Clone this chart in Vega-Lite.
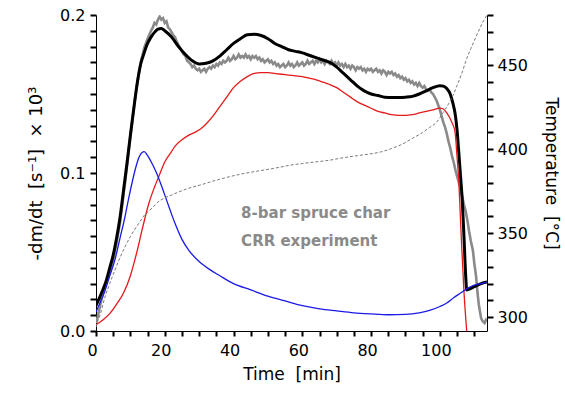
{
  "$schema": "https://vega.github.io/schema/vega-lite/v6.json",
  "width": 391,
  "height": 316,
  "padding": {"left": 96, "top": 15, "right": 78, "bottom": 70},
  "autosize": {"type": "none"},
  "config": {"view": {"stroke": null}, "font": "DejaVu Sans"},
  "datasets": {
    "exp": [
      {"t": 0, "v": 0.005}, {"t": 0.5, "v": 0.009}, {"t": 1, "v": 0.014}, {"t": 1.5, "v": 0.019}, {"t": 2, "v": 0.024},
      {"t": 3, "v": 0.03}, {"t": 4, "v": 0.037}, {"t": 5, "v": 0.045}, {"t": 6, "v": 0.056}, {"t": 7, "v": 0.069},
      {"t": 8, "v": 0.086}, {"t": 9, "v": 0.104}, {"t": 10, "v": 0.123}, {"t": 11, "v": 0.141}, {"t": 12, "v": 0.157},
      {"t": 13, "v": 0.17}, {"t": 14, "v": 0.179}, {"t": 15, "v": 0.185}, {"t": 16, "v": 0.19}, {"t": 16.5, "v": 0.192},
      {"t": 17, "v": 0.195}, {"t": 17.5, "v": 0.194}, {"t": 18, "v": 0.197}, {"t": 18.5, "v": 0.199}, {"t": 19, "v": 0.197},
      {"t": 19.5, "v": 0.198}, {"t": 20, "v": 0.195}, {"t": 20.5, "v": 0.196}, {"t": 21, "v": 0.192}, {"t": 21.5, "v": 0.191},
      {"t": 22, "v": 0.189}, {"t": 22.5, "v": 0.187}, {"t": 23, "v": 0.186}, {"t": 23.5, "v": 0.183}, {"t": 24, "v": 0.181},
      {"t": 24.5, "v": 0.179}, {"t": 25, "v": 0.177}, {"t": 25.5, "v": 0.175}, {"t": 26, "v": 0.174}, {"t": 26.5, "v": 0.171},
      {"t": 27, "v": 0.17}, {"t": 27.5, "v": 0.169}, {"t": 28, "v": 0.167}, {"t": 28.5, "v": 0.168}, {"t": 29, "v": 0.166},
      {"t": 29.5, "v": 0.165}, {"t": 30, "v": 0.166}, {"t": 30.5, "v": 0.164}, {"t": 31, "v": 0.165}, {"t": 31.5, "v": 0.166},
      {"t": 32, "v": 0.164}, {"t": 32.5, "v": 0.166}, {"t": 33, "v": 0.167}, {"t": 33.5, "v": 0.166}, {"t": 34, "v": 0.168},
      {"t": 34.5, "v": 0.167}, {"t": 35, "v": 0.169}, {"t": 35.5, "v": 0.168}, {"t": 36, "v": 0.17}, {"t": 36.5, "v": 0.169},
      {"t": 37, "v": 0.171}, {"t": 37.5, "v": 0.17}, {"t": 38, "v": 0.171}, {"t": 38.5, "v": 0.173}, {"t": 39, "v": 0.171},
      {"t": 39.5, "v": 0.172}, {"t": 40, "v": 0.174}, {"t": 40.5, "v": 0.172}, {"t": 41, "v": 0.173}, {"t": 41.5, "v": 0.175},
      {"t": 42, "v": 0.173}, {"t": 42.5, "v": 0.174}, {"t": 43, "v": 0.173}, {"t": 43.5, "v": 0.175}, {"t": 44, "v": 0.173},
      {"t": 44.5, "v": 0.174}, {"t": 45, "v": 0.172}, {"t": 45.5, "v": 0.174}, {"t": 46, "v": 0.173}, {"t": 46.5, "v": 0.174},
      {"t": 47, "v": 0.172}, {"t": 47.5, "v": 0.173}, {"t": 48, "v": 0.171}, {"t": 48.5, "v": 0.172}, {"t": 49, "v": 0.17},
      {"t": 49.5, "v": 0.171}, {"t": 50, "v": 0.172}, {"t": 50.5, "v": 0.17}, {"t": 51, "v": 0.171}, {"t": 51.5, "v": 0.169},
      {"t": 52, "v": 0.17}, {"t": 52.5, "v": 0.168}, {"t": 53, "v": 0.169}, {"t": 53.5, "v": 0.167}, {"t": 54, "v": 0.168},
      {"t": 54.5, "v": 0.169}, {"t": 55, "v": 0.167}, {"t": 55.5, "v": 0.168}, {"t": 56, "v": 0.17}, {"t": 56.5, "v": 0.168},
      {"t": 57, "v": 0.169}, {"t": 57.5, "v": 0.167}, {"t": 58, "v": 0.168}, {"t": 58.5, "v": 0.17}, {"t": 59, "v": 0.168},
      {"t": 59.5, "v": 0.169}, {"t": 60, "v": 0.17}, {"t": 60.5, "v": 0.168}, {"t": 61, "v": 0.169}, {"t": 61.5, "v": 0.171},
      {"t": 62, "v": 0.169}, {"t": 62.5, "v": 0.17}, {"t": 63, "v": 0.171}, {"t": 63.5, "v": 0.169}, {"t": 64, "v": 0.171},
      {"t": 64.5, "v": 0.17}, {"t": 65, "v": 0.172}, {"t": 65.5, "v": 0.17}, {"t": 66, "v": 0.171}, {"t": 66.5, "v": 0.169},
      {"t": 67, "v": 0.171}, {"t": 67.5, "v": 0.17}, {"t": 68, "v": 0.169}, {"t": 68.5, "v": 0.171}, {"t": 69, "v": 0.169},
      {"t": 69.5, "v": 0.17}, {"t": 70, "v": 0.168}, {"t": 70.5, "v": 0.17}, {"t": 71, "v": 0.168}, {"t": 71.5, "v": 0.169},
      {"t": 72, "v": 0.167}, {"t": 72.5, "v": 0.169}, {"t": 73, "v": 0.167}, {"t": 73.5, "v": 0.168}, {"t": 74, "v": 0.166},
      {"t": 74.5, "v": 0.168}, {"t": 75, "v": 0.167}, {"t": 75.5, "v": 0.165}, {"t": 76, "v": 0.167}, {"t": 76.5, "v": 0.166},
      {"t": 77, "v": 0.167}, {"t": 77.5, "v": 0.165}, {"t": 78, "v": 0.166}, {"t": 78.5, "v": 0.164}, {"t": 79, "v": 0.166},
      {"t": 79.5, "v": 0.165}, {"t": 80, "v": 0.166}, {"t": 80.5, "v": 0.164}, {"t": 81, "v": 0.165}, {"t": 81.5, "v": 0.166},
      {"t": 82, "v": 0.164}, {"t": 82.5, "v": 0.165}, {"t": 83, "v": 0.163}, {"t": 83.5, "v": 0.165}, {"t": 84, "v": 0.164},
      {"t": 84.5, "v": 0.162}, {"t": 85, "v": 0.164}, {"t": 85.5, "v": 0.163}, {"t": 86, "v": 0.164}, {"t": 86.5, "v": 0.162},
      {"t": 87, "v": 0.163}, {"t": 87.5, "v": 0.161}, {"t": 88, "v": 0.162}, {"t": 88.5, "v": 0.16}, {"t": 89, "v": 0.161},
      {"t": 89.5, "v": 0.159}, {"t": 90, "v": 0.16}, {"t": 90.5, "v": 0.158}, {"t": 91, "v": 0.159}, {"t": 91.5, "v": 0.157},
      {"t": 92, "v": 0.158}, {"t": 92.5, "v": 0.156}, {"t": 93, "v": 0.157}, {"t": 93.5, "v": 0.155}, {"t": 94, "v": 0.157},
      {"t": 94.5, "v": 0.155}, {"t": 95, "v": 0.154}, {"t": 95.5, "v": 0.155}, {"t": 96, "v": 0.153}, {"t": 96.5, "v": 0.152},
      {"t": 97, "v": 0.153}, {"t": 97.5, "v": 0.151}, {"t": 98, "v": 0.15}, {"t": 98.5, "v": 0.148}, {"t": 99, "v": 0.146},
      {"t": 99.5, "v": 0.143}, {"t": 100, "v": 0.14}, {"t": 100.5, "v": 0.136}, {"t": 101, "v": 0.132}, {"t": 101.5, "v": 0.129},
      {"t": 102, "v": 0.125}, {"t": 102.5, "v": 0.12}, {"t": 103, "v": 0.116}, {"t": 103.5, "v": 0.111}, {"t": 104, "v": 0.107},
      {"t": 104.5, "v": 0.102}, {"t": 105, "v": 0.098}, {"t": 105.5, "v": 0.094}, {"t": 106, "v": 0.09}, {"t": 106.5, "v": 0.085},
      {"t": 107, "v": 0.08}, {"t": 107.5, "v": 0.076}, {"t": 108, "v": 0.07}, {"t": 108.5, "v": 0.063}, {"t": 109, "v": 0.057},
      {"t": 109.6, "v": 0.051}, {"t": 110, "v": 0.043}, {"t": 110.5, "v": 0.035}, {"t": 111, "v": 0.023}, {"t": 111.3, "v": 0.017},
      {"t": 111.6, "v": 0.013}, {"t": 112, "v": 0.008}, {"t": 112.5, "v": 0.006}, {"t": 113, "v": 0.005}, {"t": 113.4, "v": 0.007},
      {"t": 113.7, "v": 0.006}
    ],
    "total": [
      {"t": 0, "v": 0.016}, {"t": 1, "v": 0.021}, {"t": 2, "v": 0.026}, {"t": 3, "v": 0.032}, {"t": 4, "v": 0.04},
      {"t": 5, "v": 0.048}, {"t": 6, "v": 0.059}, {"t": 7, "v": 0.072}, {"t": 8, "v": 0.089}, {"t": 9, "v": 0.106},
      {"t": 10, "v": 0.124}, {"t": 11, "v": 0.141}, {"t": 12, "v": 0.157}, {"t": 13, "v": 0.169}, {"t": 14, "v": 0.176},
      {"t": 15, "v": 0.182}, {"t": 16, "v": 0.186}, {"t": 17, "v": 0.189}, {"t": 18, "v": 0.191}, {"t": 19, "v": 0.1915},
      {"t": 20, "v": 0.19}, {"t": 22, "v": 0.186}, {"t": 24, "v": 0.18}, {"t": 26, "v": 0.175}, {"t": 28, "v": 0.171},
      {"t": 30, "v": 0.169}, {"t": 32, "v": 0.1695}, {"t": 34, "v": 0.171}, {"t": 36, "v": 0.174}, {"t": 38, "v": 0.178},
      {"t": 40, "v": 0.182}, {"t": 42, "v": 0.185}, {"t": 44, "v": 0.1875}, {"t": 46, "v": 0.1878}, {"t": 48, "v": 0.187},
      {"t": 50, "v": 0.185}, {"t": 52, "v": 0.182}, {"t": 54, "v": 0.18}, {"t": 56, "v": 0.178}, {"t": 58, "v": 0.177},
      {"t": 60, "v": 0.176}, {"t": 62, "v": 0.1745}, {"t": 64, "v": 0.173}, {"t": 66, "v": 0.1715}, {"t": 68, "v": 0.17},
      {"t": 70, "v": 0.167}, {"t": 72, "v": 0.163}, {"t": 74, "v": 0.159}, {"t": 76, "v": 0.155}, {"t": 78, "v": 0.152},
      {"t": 80, "v": 0.15}, {"t": 82, "v": 0.149}, {"t": 84, "v": 0.148}, {"t": 86, "v": 0.1478}, {"t": 88, "v": 0.1478},
      {"t": 90, "v": 0.148}, {"t": 92, "v": 0.1485}, {"t": 94, "v": 0.15}, {"t": 96, "v": 0.152}, {"t": 98, "v": 0.154},
      {"t": 100, "v": 0.1553}, {"t": 101, "v": 0.155}, {"t": 102, "v": 0.1535}, {"t": 103, "v": 0.15}, {"t": 103.8, "v": 0.144},
      {"t": 104.4, "v": 0.138}, {"t": 105, "v": 0.127}, {"t": 105.5, "v": 0.113}, {"t": 106, "v": 0.098}, {"t": 106.5, "v": 0.083},
      {"t": 107, "v": 0.06}, {"t": 107.5, "v": 0.035}, {"t": 107.8, "v": 0.026}, {"t": 108.5, "v": 0.0265}, {"t": 110, "v": 0.028},
      {"t": 112, "v": 0.03}, {"t": 113.7, "v": 0.031}
    ],
    "red": [
      {"t": 0, "v": 0.004}, {"t": 2, "v": 0.007}, {"t": 4, "v": 0.011}, {"t": 6, "v": 0.017}, {"t": 8, "v": 0.024},
      {"t": 10, "v": 0.035}, {"t": 11.3, "v": 0.045}, {"t": 12, "v": 0.051}, {"t": 13.4, "v": 0.064}, {"t": 15.4, "v": 0.081},
      {"t": 17, "v": 0.091}, {"t": 18.3, "v": 0.098}, {"t": 20, "v": 0.107}, {"t": 21.8, "v": 0.113}, {"t": 23, "v": 0.117},
      {"t": 25, "v": 0.121}, {"t": 27, "v": 0.124}, {"t": 29, "v": 0.126}, {"t": 30.5, "v": 0.128}, {"t": 32, "v": 0.131},
      {"t": 34, "v": 0.136}, {"t": 36, "v": 0.142}, {"t": 38, "v": 0.148}, {"t": 40, "v": 0.154}, {"t": 42, "v": 0.158},
      {"t": 44, "v": 0.161}, {"t": 46, "v": 0.163}, {"t": 48, "v": 0.1635}, {"t": 50, "v": 0.1635}, {"t": 52, "v": 0.163},
      {"t": 54, "v": 0.1625}, {"t": 56, "v": 0.162}, {"t": 58, "v": 0.1615}, {"t": 60, "v": 0.161}, {"t": 62, "v": 0.16},
      {"t": 64, "v": 0.159}, {"t": 66, "v": 0.1575}, {"t": 68, "v": 0.156}, {"t": 70, "v": 0.154}, {"t": 72, "v": 0.151},
      {"t": 74, "v": 0.148}, {"t": 76, "v": 0.145}, {"t": 78, "v": 0.143}, {"t": 80, "v": 0.141}, {"t": 82, "v": 0.139},
      {"t": 84, "v": 0.138}, {"t": 86, "v": 0.137}, {"t": 88, "v": 0.1365}, {"t": 90, "v": 0.1365}, {"t": 92, "v": 0.137},
      {"t": 94, "v": 0.138}, {"t": 96, "v": 0.139}, {"t": 98, "v": 0.14}, {"t": 100, "v": 0.141}, {"t": 101, "v": 0.1405},
      {"t": 102, "v": 0.138}, {"t": 103.5, "v": 0.132}, {"t": 104.4, "v": 0.126}, {"t": 105, "v": 0.11}, {"t": 105.5, "v": 0.095},
      {"t": 106, "v": 0.07}, {"t": 106.4, "v": 0.051}, {"t": 107, "v": 0.025}, {"t": 107.8, "v": 0.0}
    ],
    "blue": [
      {"t": 0, "v": 0.012}, {"t": 1, "v": 0.017}, {"t": 2, "v": 0.022}, {"t": 2.7, "v": 0.026}, {"t": 4, "v": 0.035},
      {"t": 5.5, "v": 0.045}, {"t": 7, "v": 0.059}, {"t": 8.4, "v": 0.072}, {"t": 9.5, "v": 0.084}, {"t": 10.5, "v": 0.094},
      {"t": 11.5, "v": 0.103}, {"t": 12.5, "v": 0.11}, {"t": 13.4, "v": 0.113}, {"t": 14, "v": 0.1135}, {"t": 15, "v": 0.111},
      {"t": 16.3, "v": 0.106}, {"t": 17.6, "v": 0.1}, {"t": 19.2, "v": 0.091}, {"t": 20.5, "v": 0.083}, {"t": 21.8, "v": 0.075},
      {"t": 23, "v": 0.068}, {"t": 25, "v": 0.058}, {"t": 27, "v": 0.051}, {"t": 30, "v": 0.044}, {"t": 33, "v": 0.039},
      {"t": 36, "v": 0.035}, {"t": 40, "v": 0.03}, {"t": 45, "v": 0.026}, {"t": 50, "v": 0.022}, {"t": 55, "v": 0.019},
      {"t": 60, "v": 0.016}, {"t": 65, "v": 0.014}, {"t": 70, "v": 0.0127}, {"t": 75, "v": 0.0115}, {"t": 80, "v": 0.0108},
      {"t": 85, "v": 0.0103}, {"t": 90, "v": 0.0105}, {"t": 94, "v": 0.0115}, {"t": 97, "v": 0.013}, {"t": 100, "v": 0.0155},
      {"t": 102, "v": 0.0177}, {"t": 104, "v": 0.021}, {"t": 106, "v": 0.024}, {"t": 108, "v": 0.027}, {"t": 110, "v": 0.029},
      {"t": 112, "v": 0.03}, {"t": 113.7, "v": 0.031}
    ],
    "temp": [
      {"t": 0, "T": 294}, {"t": 0.3, "T": 296.4}, {"t": 1, "T": 300}, {"t": 2.6, "T": 311.9}, {"t": 4, "T": 320},
      {"t": 5.5, "T": 328}, {"t": 7, "T": 335.5}, {"t": 8.4, "T": 341.7}, {"t": 10, "T": 348}, {"t": 12.5, "T": 356},
      {"t": 14, "T": 360.5}, {"t": 16.3, "T": 364.9}, {"t": 18, "T": 368.5}, {"t": 20, "T": 371}, {"t": 22, "T": 372.8},
      {"t": 24, "T": 374.5}, {"t": 27, "T": 376.8}, {"t": 30, "T": 378.5}, {"t": 34, "T": 381}, {"t": 37, "T": 382.7},
      {"t": 41, "T": 384.7}, {"t": 45, "T": 386.3}, {"t": 50, "T": 388}, {"t": 53.5, "T": 389.3}, {"t": 56.4, "T": 390.5},
      {"t": 60, "T": 391.5}, {"t": 64, "T": 392.5}, {"t": 68, "T": 393.5}, {"t": 72, "T": 395}, {"t": 76, "T": 396.2},
      {"t": 80, "T": 397.3}, {"t": 83, "T": 398.5}, {"t": 86, "T": 400.5}, {"t": 89, "T": 403}, {"t": 92, "T": 406.5},
      {"t": 95, "T": 410}, {"t": 97, "T": 413}, {"t": 99, "T": 416}, {"t": 101, "T": 422}, {"t": 102.5, "T": 427},
      {"t": 103.8, "T": 432}, {"t": 105, "T": 438}, {"t": 106.5, "T": 446}, {"t": 107.8, "T": 454}, {"t": 109, "T": 460},
      {"t": 110.5, "T": 467}, {"t": 111.6, "T": 472}, {"t": 112.7, "T": 476.5}, {"t": 113.7, "T": 480}
    ],
    "notes": [
      {"t": 42.2, "v": 0.0715, "label": "8-bar spruce char"},
      {"t": 42.2, "v": 0.0535, "label": "CRR experiment"}
    ]
  },
  "encoding": {
    "x": {
      "field": "t",
      "type": "quantitative",
      "title": "Time\u00a0\u00a0[min]",
      "scale": {"domain": [0, 113.7], "nice": false, "zero": false},
      "axis": {
        "values": [0, 5, 10, 15, 20, 25, 30, 35, 40, 45, 50, 55, 60, 65, 70, 75, 80, 85, 90, 95, 100, 105, 110],
        "labelExpr": "datum.value % 20 === 0 ? datum.label : ''",
        "grid": false,
        "domainColor": "#000000",
        "tickColor": "#000000",
        "tickWidth": 2,
        "tickSize": 5,
        "labelFontSize": 16,
        "titleFontSize": 17,
        "titleFontWeight": "normal",
        "labelPadding": 6,
        "labelOffset": -4,
        "titlePadding": 8,
        "labelFlush": false,
        "labelOverlap": false
      }
    }
  },
  "layer": [
    {
      "data": {"name": "exp"},
      "mark": {"type": "line", "color": "#8a8a8a", "strokeWidth": 2.6, "clip": true},
      "encoding": {
        "y": {
          "field": "v",
          "type": "quantitative",
          "title": "-dm/dt\u00a0\u00a0[s⁻¹]\u00a0\u00a0×\u00a010³",
          "scale": {"domain": [0, 0.2], "nice": false},
          "axis": {
            "orient": "left",
            "values": [0, 0.01, 0.02, 0.03, 0.04, 0.05, 0.06, 0.07, 0.08, 0.09, 0.1, 0.11, 0.12, 0.13, 0.14, 0.15, 0.16, 0.17, 0.18, 0.19, 0.2],
            "format": ".1f",
            "labelExpr": "round(datum.value * 100) % 10 === 0 ? datum.label : ''",
            "grid": false,
            "domainColor": "#000000",
            "tickColor": "#000000",
            "tickWidth": 2,
            "tickSize": 6,
            "labelFontSize": 16,
            "titleFontSize": 18,
            "titleFontWeight": "normal",
            "labelPadding": 5,
            "titlePadding": 14,
            "labelFlush": false,
            "labelOverlap": false
          }
        }
      }
    },
    {
      "data": {"name": "total"},
      "mark": {"type": "line", "color": "#000000", "strokeWidth": 3, "clip": true, "interpolate": "monotone"},
      "encoding": {"y": {"field": "v", "type": "quantitative", "scale": {"domain": [0, 0.2], "nice": false}, "axis": null}}
    },
    {
      "data": {"name": "red"},
      "mark": {"type": "line", "color": "#e41a1a", "strokeWidth": 1.3, "clip": true, "interpolate": "monotone"},
      "encoding": {"y": {"field": "v", "type": "quantitative", "scale": {"domain": [0, 0.2], "nice": false}, "axis": null}}
    },
    {
      "data": {"name": "blue"},
      "mark": {"type": "line", "color": "#1a1ae6", "strokeWidth": 1.3, "clip": true, "interpolate": "monotone"},
      "encoding": {"y": {"field": "v", "type": "quantitative", "scale": {"domain": [0, 0.2], "nice": false}, "axis": null}}
    },
    {
      "data": {"name": "notes"},
      "mark": {"type": "text", "align": "left", "baseline": "alphabetic", "font": "DejaVu Sans", "fontSize": 15, "fontWeight": "bold", "color": "#8a8a8a"},
      "encoding": {
        "y": {"field": "v", "type": "quantitative", "scale": {"domain": [0, 0.2], "nice": false}, "axis": null},
        "text": {"field": "label", "type": "nominal"}
      }
    },
    {
      "data": {"name": "temp"},
      "mark": {"type": "line", "color": "#7a7a7a", "strokeWidth": 1, "strokeDash": [3, 2], "clip": true, "interpolate": "monotone"},
      "encoding": {
        "y": {
          "field": "T",
          "type": "quantitative",
          "title": "Temperature\u00a0\u00a0[°C]",
          "scale": {"domain": [291.7, 480], "nice": false, "zero": false},
          "axis": {
            "orient": "right",
            "values": [300, 310, 320, 330, 340, 350, 360, 370, 380, 390, 400, 410, 420, 430, 440, 450, 460, 470, 480],
            "labelExpr": "datum.value % 50 === 0 ? datum.label : ''",
            "grid": false,
            "domainColor": "#000000",
            "tickColor": "#000000",
            "tickWidth": 2,
            "tickSize": 6,
            "labelFontSize": 16,
            "titleFontSize": 17,
            "titleFontWeight": "normal",
            "labelPadding": 4,
            "titlePadding": 14,
            "labelFlush": false,
            "labelOverlap": false
          }
        }
      }
    }
  ],
  "resolve": {"scale": {"y": "independent"}}
}
